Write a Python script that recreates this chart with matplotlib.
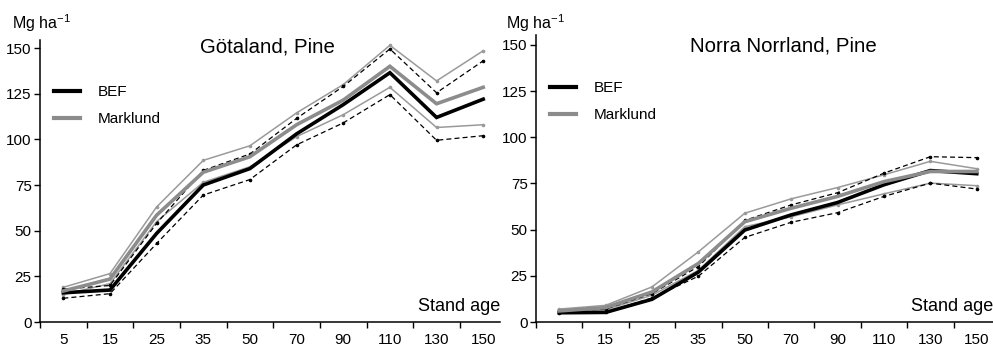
import numpy as np
import matplotlib.pyplot as plt
from matplotlib.ticker import FixedLocator

plt.rcParams['font.family'] = ['Liberation Sans', 'DejaVu Sans']

ages = ['5', '15', '25', '35', '50', '70', '90', '110', '130', '150']

# Götaland, Pine
gota_bef = [16, 17.5, 48.5, 75, 84, 103, 119, 136.5, 112, 122]
gota_bef_hi = [18, 20, 54, 83, 92, 111.5, 129, 149.5, 125.5, 143]
gota_bef_lo = [13, 15.5, 43, 69.5, 78, 97, 109, 124.5, 99.5, 102]
gota_mark = [17, 23.5, 58.5, 82, 90.5, 108, 121.5, 140, 119.5, 128.5]
gota_mark_hi = [19, 26.5, 63, 88.5, 96.5, 114.5, 130, 151.5, 132, 148.5]
gota_mark_lo = [15, 21, 55, 76.5, 85, 101.5, 113.5, 128.5, 106.5, 108]

# Norra Norrland, Pine
norr_bef = [5, 5.2, 12.3, 27, 49.8, 58, 64.7, 74.3, 82, 80.3]
norr_bef_hi = [6, 7, 15.4, 30, 55, 63.4, 70, 80.6, 89.5, 89]
norr_bef_lo = [5, 5.2, 13, 24.8, 45.8, 54, 59.2, 68, 75.2, 72]
norr_mark = [6, 7.8, 16.3, 31.7, 54.3, 61.6, 68, 76, 81.5, 81.5]
norr_mark_hi = [7, 9, 19, 38, 58.9, 66.7, 72.8, 79.7, 87, 83]
norr_mark_lo = [5.2, 6.7, 14.5, 28, 51.6, 57, 63.4, 69.4, 75.2, 73.8]

W, H = 993, 346
fig = plt.figure(figsize=(W / 100, H / 100), dpi=100)


def panel(rect, title, title_xy, bef, bef_hi, bef_lo, mark, mark_hi, mark_lo, xmax, ymax):
    ax = fig.add_axes(rect)
    x = np.arange(len(ages))

    # confidence bands: thin grey for Marklund, dashed black for BEF
    ax.plot(x, mark_hi, color='#9a9a9a', lw=1.1, marker='o', ms=1.6, zorder=2)
    ax.plot(x, mark_lo, color='#9a9a9a', lw=1.1, marker='o', ms=1.6, zorder=2)
    ax.plot(x, bef_hi, color='black', lw=0.9, ls=(0, (4, 2.5)), marker='o', ms=1.6, zorder=3)
    ax.plot(x, bef_lo, color='black', lw=0.9, ls=(0, (4, 2.5)), marker='o', ms=1.6, zorder=3)

    # means
    ax.plot(x, bef, color='black', lw=2.6, solid_joinstyle='miter', zorder=4, label='BEF')
    ax.plot(x, mark, color='#8c8c8c', lw=2.6, solid_joinstyle='miter', zorder=4, label='Marklund')

    ax.set_xlim(-0.5, xmax)
    ax.set_ylim(0, ymax)
    ax.set_yticks([0, 25, 50, 75, 100, 125, 150])
    ax.set_xticks(x)
    ax.set_xticklabels(ages)
    ax.xaxis.set_minor_locator(FixedLocator(np.arange(-0.5, 10, 1.0)))
    ax.tick_params(axis='x', which='major', length=0, pad=8, labelsize=11)
    ax.tick_params(axis='x', which='minor', length=4, width=1, direction='out')
    ax.tick_params(axis='y', length=4, width=1, pad=2, labelsize=11)

    for s in ['top', 'right']:
        ax.spines[s].set_visible(False)
    for s in ['left', 'bottom']:
        ax.spines[s].set_linewidth(1.1)

    ax.text(title_xy[0], title_xy[1], title, transform=fig.transFigure,
            ha='center', va='center', fontsize=14.7)

    leg = ax.legend(loc='upper left', bbox_to_anchor=(0.0, 0.888), frameon=False,
                    fontsize=11, handlelength=1.7, handletextpad=1.2, labelspacing=0.86)
    for line in leg.get_lines():
        line.set_linewidth(3)

    ax.text(1.0, 0.025, 'Stand age', transform=ax.transAxes, ha='right', va='bottom', fontsize=13)
    return ax


ax1 = panel([40 / W, 24 / H, 460 / W, 282 / H], 'Götaland, Pine', (267 / W, 1 - 47 / H),
            gota_bef, gota_bef_hi, gota_bef_lo, gota_mark, gota_mark_hi, gota_mark_lo,
            9.36, 154.4)
ax2 = panel([536 / W, 24 / H, 457 / W, 287 / H], 'Norra Norrland, Pine', (783 / W, 1 - 46 / H),
            norr_bef, norr_bef_hi, norr_bef_lo, norr_mark, norr_mark_hi, norr_mark_lo,
            9.35, 155.4)

fig.text(12 / W, 1 - 23 / H, 'Mg ha$^{\\mathregular{-1}}$', ha='left', va='center', fontsize=11.5)
fig.text(506 / W, 1 - 23 / H, 'Mg ha$^{\\mathregular{-1}}$', ha='left', va='center', fontsize=11.5)

fig.savefig('out.png', dpi=100)
